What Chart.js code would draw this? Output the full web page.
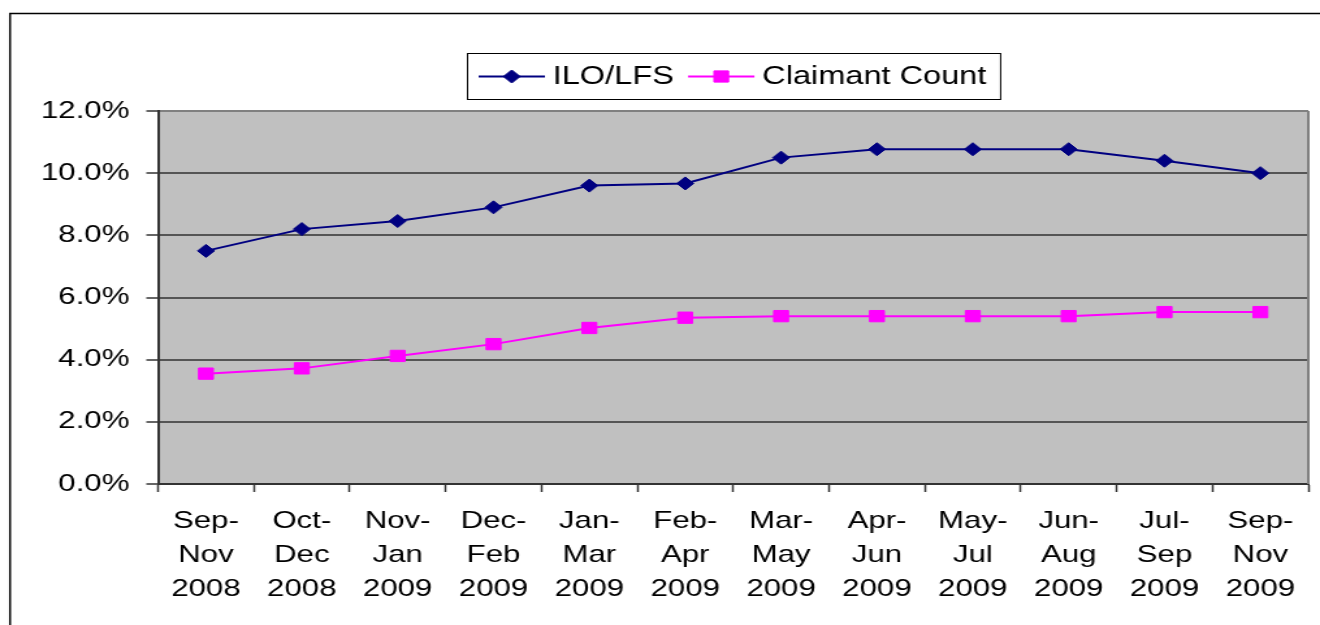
<!DOCTYPE html>
<html>
<head>
<meta charset="utf-8">
<script src="https://cdn.jsdelivr.net/npm/chart.js@4/dist/chart.umd.min.js"></script>
<style>
html, body { margin: 0; padding: 0; background: #fff; overflow: hidden; }
/* the original picture is stretched sideways, so the canvas is too */
#wrap { width: 1015px; height: 625px; transform: scaleX(1.3005); transform-origin: 0 0; }
</style>
</head>
<body>
<div id="wrap"><canvas id="myChart" width="1015" height="625"></canvas></div>
<script>
// Dados do gráfico
const periodos = [
    ['Sep-', 'Nov', '2008'], ['Oct-', 'Dec', '2008'], ['Nov-', 'Jan', '2009'],
    ['Dec-', 'Feb', '2009'], ['Jan-', 'Mar', '2009'], ['Feb-', 'Apr', '2009'],
    ['Mar-', 'May', '2009'], ['Apr-', 'Jun', '2009'], ['May-', 'Jul', '2009'],
    ['Jun-', 'Aug', '2009'], ['Jul-', 'Sep', '2009'], ['Sep-', 'Nov', '2009']
];
const iloLfs = [7.5, 8.2, 8.46, 8.9, 9.6, 9.67, 10.5, 10.77, 10.77, 10.77, 10.4, 10.0];
const claimantCount = [3.55, 3.72, 4.12, 4.5, 5.02, 5.35, 5.4, 5.4, 5.4, 5.4, 5.53, 5.53];
const yTicks = [0, 2, 4, 6, 8, 10, 12];

const fonte = '"Liberation Sans", Arial, sans-serif';

// fundo, moldura externa e área cinza
const fundo = {
    id: 'fundo',
    beforeDraw(chart) {
        const ctx = chart.ctx;
        const a = chart.chartArea;
        ctx.save();
        ctx.fillStyle = '#ffffff';
        ctx.fillRect(0, 0, chart.width, chart.height);
        ctx.strokeStyle = '#000000';
        ctx.lineWidth = 1.5;
        ctx.beginPath();
        ctx.moveTo(7.7, chart.height);
        ctx.lineTo(7.7, 13.5);
        ctx.lineTo(chart.width, 13.5);
        ctx.stroke();
        ctx.fillStyle = '#c0c0c0';
        ctx.fillRect(a.left, a.top, a.right - a.left, a.bottom - a.top);
        ctx.restore();
    },
    beforeDatasetsDraw(chart) {
        const ctx = chart.ctx;
        const a = chart.chartArea;
        ctx.save();
        ctx.strokeStyle = '#808080';
        ctx.lineWidth = 2;
        ctx.beginPath();
        ctx.moveTo(a.right, a.bottom);
        ctx.lineTo(a.right, a.top);
        ctx.stroke();
        ctx.restore();
    }
};

function desenharMarcador(ctx, estilo, cor, x, y) {
    ctx.fillStyle = cor;
    ctx.strokeStyle = cor;
    ctx.lineWidth = 1;
    ctx.beginPath();
    if (estilo === 'rectRot') {
        const r = 6.5;
        ctx.moveTo(x, y - r);
        ctx.lineTo(x + r, y);
        ctx.lineTo(x, y + r);
        ctx.lineTo(x - r, y);
    } else {
        const s = 5.6;
        ctx.rect(x - s, y - s, 2 * s, 2 * s);
    }
    ctx.closePath();
    ctx.fill();
    ctx.stroke();
}

// legenda com caixa, linha e marcador
const legendaBox = {
    id: 'legendaBox',
    afterDraw(chart) {
        const ctx = chart.ctx;
        const a = chart.chartArea;
        ctx.save();
        ctx.font = '25px ' + fonte;
        const linha = 51, gap = 6, entre = 11, padL = 8.5, padR = 11;
        let total = padL + padR - entre;
        chart.data.datasets.forEach(ds => {
            total += linha + gap + ctx.measureText(ds.label).width + entre;
        });
        const x0 = Math.round((a.left + a.right) / 2 - total / 2) + 0.5;
        const y0 = 53.5, h = 46, cy = y0 + h / 2;
        ctx.fillStyle = '#ffffff';
        ctx.fillRect(x0, y0, total, h);
        ctx.strokeStyle = '#000000';
        ctx.lineWidth = 1;
        ctx.strokeRect(x0, y0, total, h);

        let x = x0 + padL;
        chart.data.datasets.forEach(ds => {
            ctx.strokeStyle = ds.borderColor;
            ctx.lineWidth = 2;
            ctx.beginPath();
            ctx.moveTo(x, cy);
            ctx.lineTo(x + linha, cy);
            ctx.stroke();
            desenharMarcador(ctx, ds.pointStyle, ds.borderColor, x + linha / 2, cy);
            x += linha + gap;
            ctx.fillStyle = '#000000';
            ctx.textAlign = 'left';
            ctx.textBaseline = 'middle';
            ctx.fillText(ds.label, x, cy + 1);
            x += ctx.measureText(ds.label).width + entre;
        });
        ctx.restore();
    }
};

const ctx = document.getElementById('myChart').getContext('2d');
const myChart = new Chart(ctx, {
    type: 'line',
    data: {
        labels: periodos,
        datasets: [{
            label: 'ILO/LFS',
            data: iloLfs,
            borderColor: '#000080',
            backgroundColor: '#000080',
            borderWidth: 2,
            pointStyle: 'rectRot',
            pointRadius: 6.5,
            pointBorderWidth: 1,
            tension: 0,
            fill: false
        }, {
            label: 'Claimant Count',
            data: claimantCount,
            borderColor: '#ff00ff',
            backgroundColor: '#ff00ff',
            borderWidth: 2,
            pointStyle: 'rect',
            pointRadius: 8,
            pointBorderWidth: 1,
            tension: 0,
            fill: false
        }]
    },
    options: {
        responsive: false,
        animation: false,
        layout: { padding: { top: 111, right: 8.5, left: 0, bottom: 0 } },
        plugins: {
            legend: { display: false },
            tooltip: { enabled: false }
        },
        scales: {
            x: {
                offset: true,
                grid: {
                    offset: true,
                    drawOnChartArea: false,
                    drawTicks: true,
                    tickLength: 8,
                    tickColor: '#333333',
                    tickWidth: 1.5
                },
                border: { display: true, color: '#333333', width: 2 },
                ticks: {
                    color: '#000000',
                    padding: 12,
                    maxRotation: 0,
                    autoSkip: false,
                    font: { family: fonte, size: 24, lineHeight: '34px' }
                },
                afterFit(scale) { scale.height = 141; }
            },
            y: {
                min: 0,
                max: 12,
                afterBuildTicks(scale) {
                    scale.ticks = yTicks.map(v => ({ value: v }));
                },
                grid: {
                    color: c => (c.tick && c.tick.value === 12) ? '#808080' : '#555555',
                    lineWidth: 2,
                    tickLength: 9,
                    tickColor: '#333333',
                    tickWidth: 1.5
                },
                border: { display: true, color: '#333333', width: 2 },
                ticks: {
                    color: '#000000',
                    padding: 13,
                    font: { family: fonte, size: 24 },
                    callback: v => v.toFixed(1) + '%'
                },
                afterFit(scale) { scale.width = 121.5; }
            }
        }
    },
    plugins: [fundo, legendaBox]
});
</script>
</body>
</html>
